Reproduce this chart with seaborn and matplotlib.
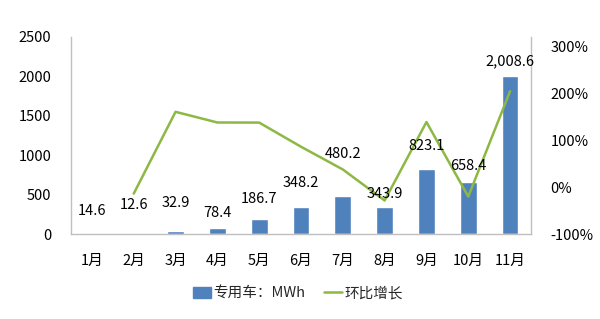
import numpy as np
import matplotlib
matplotlib.use("Agg")
import matplotlib.pyplot as plt
from matplotlib.patches import Patch
from matplotlib.lines import Line2D
import seaborn as sns

months = ["1月", "2月", "3月", "4月", "5月", "6月", "7月", "8月", "9月", "10月", "11月"]
energy_mwh = [14.6, 12.6, 32.9, 78.4, 186.7, 348.2, 480.2, 343.9, 823.1, 658.4, 2008.6]
energy_labels = ["14.6", "12.6", "32.9", "78.4", "186.7", "348.2", "480.2", "343.9", "823.1", "658.4", "2,008.6"]
growth_months = months[1:]
growth_pct = [-13.7, 161.1, 138.3, 138.1, 86.5, 37.9, -28.4, 139.3, -20.0, 205.1]
left_ticks = [0, 500, 1000, 1500, 2000, 2500]
right_ticks = [-100, 0, 100, 200, 300]
bar_name = "专用车：MWh"
line_name = "环比增长"

sns.set_theme(style="white")
plt.rcParams["font.family"] = ["Noto Sans CJK SC", "DejaVu Sans"]

BLUE = "#4F81BD"
GREEN = "#8DB843"
GRAY = "#BFBFBF"
FS = 10.5

fig = plt.figure(figsize=(6.0, 3.19), dpi=100)
ax = fig.add_axes([71 / 600, 85 / 319, 460 / 600, 197 / 319])

sns.barplot(x=months, y=energy_mwh, color=BLUE, width=0.4, saturation=1, ax=ax)
ax.set_ylim(0, 2500)
ax.set_xlim(-0.5, len(months) - 0.5)
ax.set_yticks(left_ticks)
ax.set_yticklabels([str(t) for t in left_ticks], fontsize=FS, color="black")
ax.set_xticks(range(len(months)))
ax.set_xticklabels(months, fontsize=FS, color="black")
ax.set_xticks(np.arange(-0.5, len(months)), minor=True)
ax.tick_params(axis="x", which="major", length=0, pad=14)
ax.tick_params(axis="x", which="minor", direction="in", length=4, color=GRAY, width=0.8)
ax.tick_params(axis="y", length=0, pad=14)
ax.set_xlabel("")
ax.set_ylabel("")
for s in ["top", "right"]:
    ax.spines[s].set_visible(False)
for s in ["left", "bottom"]:
    ax.spines[s].set_color(GRAY)
    ax.spines[s].set_linewidth(1.0)

ax2 = ax.twinx()
gx = [months.index(m) for m in growth_months]
sns.lineplot(x=gx, y=growth_pct, color=GREEN, linewidth=1.8, ax=ax2)
ax2.set_ylim(-100, 321)
ax2.set_xlim(-0.5, len(months) - 0.5)
ax2.set_yticks(right_ticks)
ax2.set_yticklabels([f"{t}%" for t in right_ticks], fontsize=FS, color="black")
ax2.tick_params(axis="y", length=0, pad=14)
ax2.set_ylabel("")
for s in ["top", "left", "bottom"]:
    ax2.spines[s].set_visible(False)
ax2.spines["right"].set_color(GRAY)
ax2.spines["right"].set_linewidth(1.0)

# data labels drawn above the line (pixel offsets above each bar top)
label_offsets = [22, 28, 28, 15, 20, 24, 42, 13, 23, 16, 14]
for i, (v, lab) in enumerate(zip(energy_mwh, energy_labels)):
    ax2.annotate(lab, (i, v), xycoords=ax.transData, xytext=(0, label_offsets[i]),
                 textcoords="offset pixels", ha="center", va="center",
                 fontsize=FS, color="black", zorder=5)

handles = [Patch(facecolor=BLUE, edgecolor=BLUE), Line2D([0], [0], color=GREEN, linewidth=1.8)]
fig.legend(handles, [bar_name, line_name], loc="center", bbox_to_anchor=(0.497, 0.081),
           ncol=2, frameon=False, fontsize=FS, handlelength=1.2, handleheight=0.8,
           handletextpad=0.2, columnspacing=1.3)

fig.savefig("out.png", dpi=100, facecolor="white")
